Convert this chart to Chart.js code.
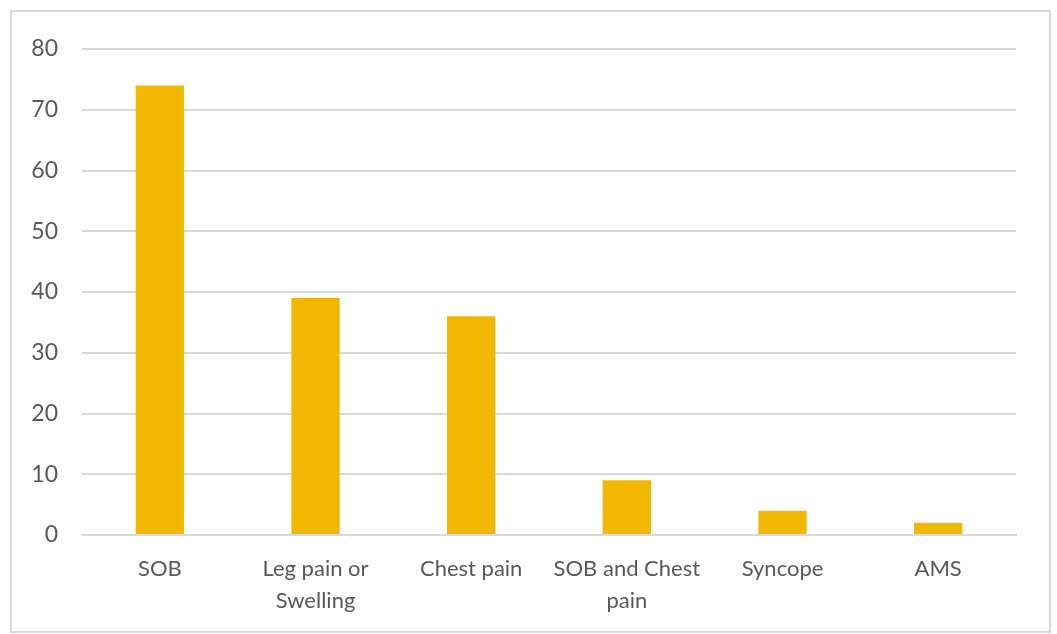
<!DOCTYPE html>
<html>
<head>
<meta charset="utf-8">
<script src="https://cdn.jsdelivr.net/npm/chart.js@4/dist/chart.umd.min.js"></script>
<style>
  html, body { margin: 0; padding: 0; background: #fff; }
  #wrap { position: relative; width: 1057px; height: 634px; }
  #frame {
    position: absolute; left: 10px; top: 10px; width: 1041px; height: 623px;
    box-sizing: border-box; border: 2px solid #d9d9d9; pointer-events: none;
  }
  canvas { position: absolute; left: 0; top: 0; }
</style>
</head>
<body>
<div id="wrap">
  <canvas id="chart" width="1057" height="634"></canvas>
  <div id="frame"></div>
</div>
<script>
// Symptom counts
const categories = ['SOB', ['Leg pain or', 'Swelling'], 'Chest pain', ['SOB and Chest', 'pain'], 'Syncope', 'AMS'];
const counts = [74, 39, 36, 9, 4, 2];
const yTicks = [0, 10, 20, 30, 40, 50, 60, 70, 80];

const textColor = '#595959';
const gridColor = '#d9d9d9';
const barColor = '#F2B700';
const fontFamily = 'Lato, "Open Sans", sans-serif';

const ctx = document.getElementById('chart').getContext('2d');
new Chart(ctx, {
  type: 'bar',
  data: {
    labels: categories,
    datasets: [{
      data: counts,
      backgroundColor: barColor,
      borderWidth: 0,
      categoryPercentage: 1,
      barPercentage: 0.31
    }]
  },
  options: {
    responsive: false,
    animation: false,
    devicePixelRatio: 1,
    layout: { padding: { top: 49, right: 41, bottom: 0, left: 0 } },
    plugins: {
      legend: { display: false },
      tooltip: { enabled: false }
    },
    scales: {
      x: {
        grid: { display: false, drawTicks: false },
        border: { color: gridColor, width: 2 },
        ticks: {
          color: textColor,
          font: { family: fontFamily, size: 22, lineHeight: 1.45 },
          padding: 18,
          maxRotation: 0,
          autoSkip: false
        },
        afterFit: scale => { scale.height = 99; }
      },
      y: {
        min: 0,
        max: 80,
        afterBuildTicks: scale => { scale.ticks = yTicks.map(v => ({ value: v })); },
        grid: { color: gridColor, lineWidth: 2, drawTicks: false },
        border: { display: false },
        ticks: {
          color: textColor,
          font: { family: fontFamily, size: 23 },
          padding: 24
        },
        afterFit: scale => { scale.width = 82; }
      }
    }
  }
});
</script>
</body>
</html>
